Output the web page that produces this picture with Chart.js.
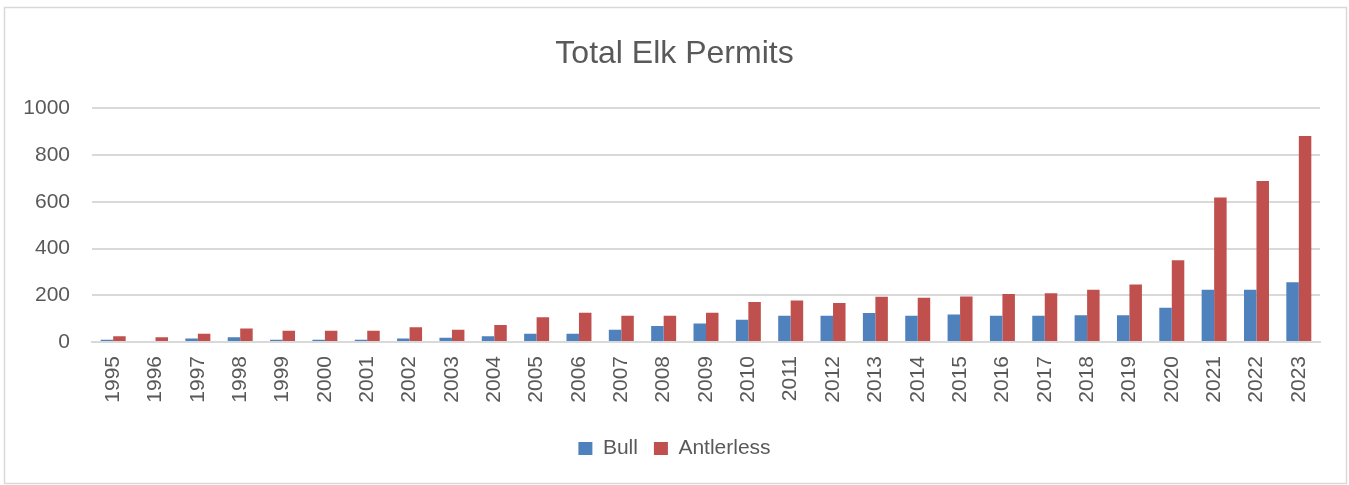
<!DOCTYPE html>
<html>
<head>
<meta charset="utf-8">
<title>Total Elk Permits</title>
<script src="https://cdn.jsdelivr.net/npm/chart.js@4.4.1/dist/chart.umd.min.js"></script>
<style>
  html, body { margin: 0; padding: 0; background: #ffffff; }
  #wrap { position: relative; width: 1349px; height: 485px; }
</style>
</head>
<body>
<div id="wrap"><canvas id="chart" width="1349" height="485"></canvas></div>
<script>
// Permit years
const years = ['1995','1996','1997','1998','1999','2000','2001','2002','2003','2004',
  '2005','2006','2007','2008','2009','2010','2011','2012','2013','2014',
  '2015','2016','2017','2018','2019','2020','2021','2022','2023'];

// Bull permits per year
const bull = [10, 0, 15, 20, 10, 10, 10, 15, 18, 25,
  35, 35, 52, 69, 79, 95, 112, 112, 124, 112,
  118, 112, 112, 114, 114, 147, 224, 224, 256];

// Antlerless permits per year
const antlerless = [25, 20, 35, 58, 48, 48, 48, 63, 52, 73,
  106, 125, 112, 112, 125, 171, 178, 167, 194, 189,
  195, 205, 209, 224, 246, 350, 619, 689, 882];

// Value axis ticks
const yTicks = [0, 200, 400, 600, 800, 1000];

const FONT = "'Liberation Sans', Arial, sans-serif";
const GREY_TEXT = '#595959';
const GRID = '#d9d9d9';

// White background and thin outer frame around the chart
const framePlugin = {
  id: 'frame',
  beforeDraw(chart) {
    const ctx = chart.ctx;
    ctx.save();
    ctx.fillStyle = '#ffffff';
    ctx.fillRect(0, 0, chart.width, chart.height);
    ctx.strokeStyle = GRID;
    ctx.lineWidth = 1.5;
    ctx.strokeRect(4.5, 7.5, 1342, 476);
    ctx.restore();
  }
};

new Chart(document.getElementById('chart'), {
  type: 'bar',
  data: {
    labels: years,
    datasets: [
      { label: 'Bull', data: bull, backgroundColor: '#4f81bd', borderWidth: 0 },
      { label: 'Antlerless', data: antlerless, backgroundColor: '#c0504d', borderWidth: 0 }
    ]
  },
  options: {
    responsive: false,
    animation: false,
    devicePixelRatio: 1,
    layout: { padding: { left: 0, right: 0, top: 0, bottom: 16 } },
    datasets: { bar: { categoryPercentage: 0.59, barPercentage: 1.0 } },
    plugins: {
      title: {
        display: true,
        text: 'Total Elk Permits',
        color: GREY_TEXT,
        font: { family: FONT, size: 32, weight: 'normal', lineHeight: 1.2 },
        padding: { top: 35, bottom: 35 }
      },
      legend: {
        display: true,
        position: 'bottom',
        labels: {
          color: GREY_TEXT,
          font: { family: FONT, size: 21 },
          boxWidth: 14,
          boxHeight: 13,
          padding: 16
        }
      },
      tooltip: { enabled: false }
    },
    scales: {
      x: {
        grid: { display: false, drawTicks: false },
        border: { display: true, color: GRID, width: 2 },
        ticks: {
          color: GREY_TEXT,
          font: { family: FONT, size: 21 },
          minRotation: 90,
          maxRotation: 90,
          autoSkip: false,
          padding: 14
        },
        afterFit(scale) {
          scale.height = 80;
          // keep a right margin beside the plot while title and legend stay centred on the canvas
          scale.paddingRight = 29;
        }
      },
      y: {
        min: 0,
        max: 1000,
        afterBuildTicks(scale) { scale.ticks = yTicks.map(v => ({ value: v })); },
        grid: { color: GRID, lineWidth: 2, drawTicks: false },
        border: { display: false },
        ticks: {
          color: GREY_TEXT,
          font: { family: FONT, size: 21 },
          padding: 22,
          callback: (v) => String(v)
        },
        afterFit(scale) { scale.width = 92; }
      }
    }
  },
  plugins: [framePlugin]
});
</script>
</body>
</html>
